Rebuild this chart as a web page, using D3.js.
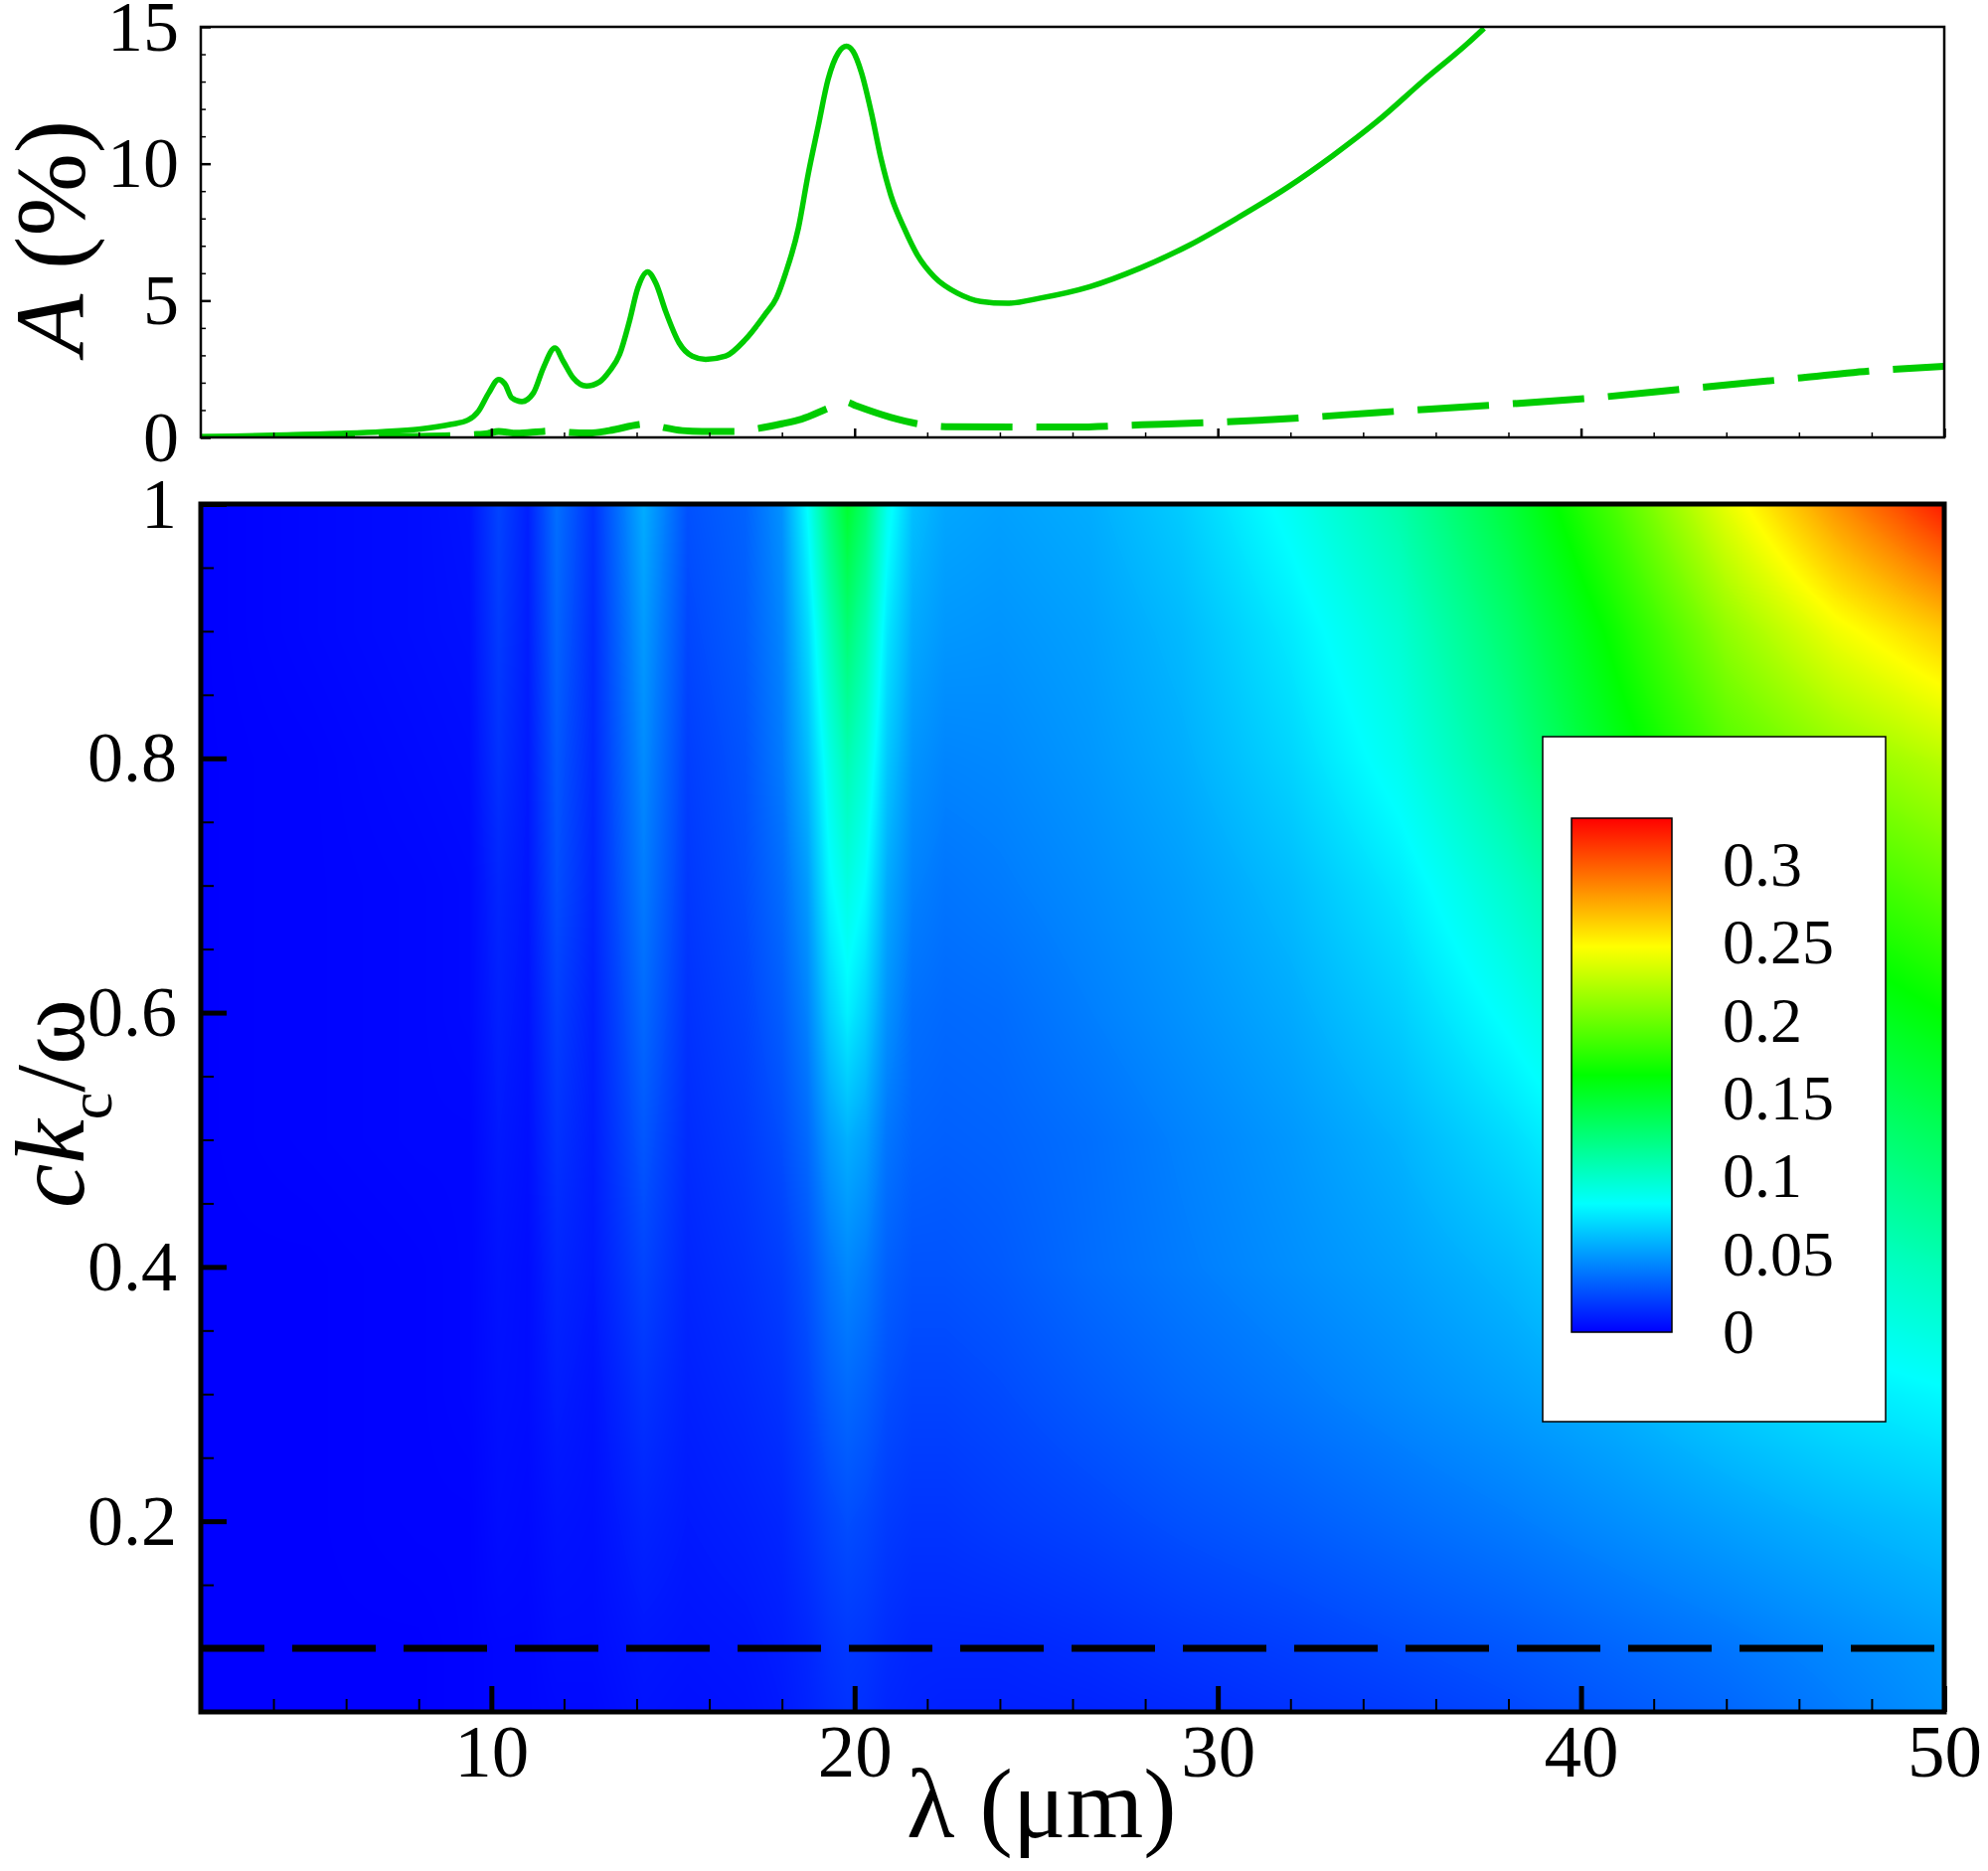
<!DOCTYPE html>
<html>
<head>
<meta charset="utf-8">
<script src="https://cdn.jsdelivr.net/npm/d3@7"></script>
<style>
body { margin: 0; background: #fff; }
svg text { font-family: "Liberation Serif", "Times New Roman", serif; fill: #000; }
</style>
</head>
<body>
<svg id="chart" width="2000" height="1882"></svg>
<script>
// top panel: A (%) against wavelength, two curves
var solidLambda = [2, 4, 6, 7, 8, 8.9, 9.35, 9.65, 9.93, 10.2, 10.38, 10.56, 10.84, 11.16, 11.43, 11.75, 11.98, 12.25, 12.62, 12.98, 13.25, 13.53, 13.8, 14.03, 14.3, 14.53, 14.8, 15.17, 15.53, 15.9, 16.45, 16.99, 17.54, 17.85, 18.1, 18.45, 18.72, 19.0, 19.27, 19.55, 19.78, 19.96, 20.19, 20.46, 20.73, 21.0, 21.37, 21.73, 22.19, 22.83, 23.47, 24.2, 25.11, 26.48, 27.85, 29.21, 30.58, 31.92, 33.16, 34.4, 35.65, 36.89, 37.33];
var solidA = [0.02, 0.08, 0.15, 0.21, 0.3, 0.48, 0.63, 0.97, 1.63, 2.12, 1.94, 1.45, 1.31, 1.63, 2.54, 3.27, 2.78, 2.18, 1.88, 2.03, 2.42, 3.03, 4.24, 5.45, 6.05, 5.63, 4.6, 3.45, 2.97, 2.85, 2.97, 3.57, 4.5, 5.1, 6.0, 7.63, 9.6, 11.38, 13.08, 14.05, 14.29, 14.1, 13.32, 11.87, 10.17, 8.84, 7.63, 6.66, 5.87, 5.27, 4.97, 4.9, 5.09, 5.51, 6.18, 7.02, 8.05, 9.14, 10.29, 11.56, 13.02, 14.41, 14.95];
var dashLambda = [2, 5, 8, 9.5, 9.9, 10.2, 10.7, 11.43, 11.8, 12.16, 12.7, 13.25, 14.07, 14.3, 14.75, 15.26, 15.8, 16.7, 17.35, 18.0, 18.54, 19.32, 19.75, 20.05, 21.0, 21.92, 22.65, 24.56, 26.0, 27.9, 29.9, 31.5, 34.4, 37.64, 40.37, 42.98, 45.6, 48.2, 50];
var dashA = [0, 0.01, 0.04, 0.1, 0.14, 0.22, 0.15, 0.22, 0.24, 0.18, 0.16, 0.25, 0.47, 0.5, 0.36, 0.25, 0.22, 0.22, 0.33, 0.5, 0.67, 1.09, 1.3, 1.15, 0.73, 0.46, 0.39, 0.38, 0.38, 0.46, 0.55, 0.65, 0.91, 1.19, 1.45, 1.79, 2.12, 2.45, 2.6];

// bottom panel: contour field on a (lambda, ck_c/omega) grid
var lambdaCols = [2, 5, 8, 9.4, 10.2, 11, 11.8, 12.8, 14.2, 15.4, 17, 18, 18.7, 19.3, 19.8, 20.3, 20.9, 21.6, 22.5, 24, 26.5, 29, 32, 35, 38, 41, 44, 47, 50];
var kRows = [0.05, 0.1, 0.2, 0.3, 0.4, 0.5, 0.6, 0.7, 0.8, 0.9, 1.0];
var fieldRows = [
  [0, 0, 0, 0.001, 0.002, 0.002, 0.003, 0.003, 0.006, 0.005, 0.006, 0.008, 0.011, 0.014, 0.016, 0.015, 0.012, 0.011, 0.010, 0.010, 0.011, 0.013, 0.016, 0.019, 0.023, 0.028, 0.033, 0.04, 0.047],
  [0, 0, 0, 0.001, 0.002, 0.002, 0.004, 0.004, 0.007, 0.006, 0.007, 0.009, 0.012, 0.016, 0.018, 0.017, 0.014, 0.012, 0.012, 0.012, 0.014, 0.017, 0.02, 0.024, 0.028, 0.033, 0.038, 0.044, 0.05],
  [0, 0, 0.001, 0.001, 0.004, 0.003, 0.006, 0.005, 0.011, 0.008, 0.01, 0.012, 0.017, 0.022, 0.025, 0.023, 0.019, 0.017, 0.017, 0.019, 0.022, 0.026, 0.03, 0.035, 0.04, 0.046, 0.052, 0.058, 0.063],
  [0, 0, 0.001, 0.002, 0.005, 0.004, 0.009, 0.006, 0.016, 0.01, 0.013, 0.016, 0.022, 0.03, 0.034, 0.031, 0.025, 0.022, 0.022, 0.024, 0.029, 0.034, 0.039, 0.045, 0.051, 0.058, 0.067, 0.075, 0.081],
  [0, 0, 0.001, 0.002, 0.006, 0.004, 0.012, 0.008, 0.022, 0.012, 0.016, 0.02, 0.027, 0.038, 0.044, 0.04, 0.031, 0.027, 0.027, 0.029, 0.035, 0.04, 0.046, 0.052, 0.06, 0.072, 0.085, 0.097, 0.106],
  [0, 0.001, 0.002, 0.002, 0.008, 0.005, 0.016, 0.009, 0.028, 0.014, 0.019, 0.025, 0.034, 0.05, 0.057, 0.052, 0.038, 0.032, 0.031, 0.032, 0.036, 0.042, 0.049, 0.058, 0.071, 0.087, 0.105, 0.122, 0.135],
  [0, 0.001, 0.002, 0.003, 0.01, 0.006, 0.02, 0.01, 0.034, 0.016, 0.022, 0.03, 0.042, 0.066, 0.078, 0.068, 0.047, 0.036, 0.034, 0.035, 0.041, 0.047, 0.055, 0.067, 0.085, 0.107, 0.13, 0.15, 0.165],
  [0, 0.001, 0.002, 0.003, 0.012, 0.007, 0.025, 0.012, 0.04, 0.018, 0.025, 0.035, 0.05, 0.08, 0.092, 0.082, 0.055, 0.042, 0.038, 0.04, 0.045, 0.051, 0.061, 0.076, 0.099, 0.126, 0.156, 0.18, 0.195],
  [0, 0.001, 0.003, 0.004, 0.016, 0.008, 0.028, 0.013, 0.045, 0.02, 0.027, 0.04, 0.06, 0.09, 0.108, 0.095, 0.065, 0.048, 0.043, 0.044, 0.049, 0.056, 0.069, 0.088, 0.117, 0.156, 0.19, 0.21, 0.225],
  [0, 0.002, 0.004, 0.005, 0.019, 0.009, 0.032, 0.014, 0.05, 0.023, 0.03, 0.043, 0.07, 0.105, 0.128, 0.11, 0.075, 0.055, 0.049, 0.048, 0.052, 0.06, 0.076, 0.097, 0.13, 0.17, 0.212, 0.243, 0.265],
  [0, 0.002, 0.004, 0.006, 0.022, 0.01, 0.036, 0.016, 0.056, 0.026, 0.032, 0.047, 0.083, 0.125, 0.15, 0.13, 0.088, 0.062, 0.054, 0.052, 0.056, 0.066, 0.086, 0.11, 0.146, 0.19, 0.24, 0.283, 0.322]
];
var cutoffK = 0.1;

// ticks and colour levels
var xTicks = [10, 20, 30, 40, 50];
var topYTicks = [0, 5, 10, 15];
var kTicks = [0.2, 0.4, 0.6, 0.8, 1];
var legendTicks = [0, 0.05, 0.1, 0.15, 0.2, 0.25, 0.3];
var colorStops = [0, 0.0825, 0.165, 0.2475, 0.33];
var colorNames = ["#0000ff", "#00ffff", "#00ff00", "#ffff00", "#ff0000"];

var svg = d3.select("#chart");
var serif = '"Liberation Serif", "Times New Roman", serif';
var left = 202, right = 1956;

var x = d3.scaleLinear().domain([2, 50]).range([left, right]);
var yTop = d3.scaleLinear().domain([0, 15]).range([440, 27]);
var yBot = d3.scaleLinear().domain([0.05, 1]).range([1722, 507]);
var color = d3.scaleLinear().domain(colorStops).range(colorNames).clamp(true);

var xMinor = d3.range(4, 50, 2).filter(function(d) { return d % 10 !== 0; });

// ---------- top panel ----------
svg.append("clipPath").attr("id", "topclip")
  .append("rect").attr("x", left).attr("y", yTop(15))
  .attr("width", right - left).attr("height", yTop(0) - yTop(15));

var line = d3.line()
  .x(function(d) { return x(d[0]); })
  .y(function(d) { return yTop(d[1]); })
  .curve(d3.curveMonotoneX);

var topG = svg.append("g").attr("clip-path", "url(#topclip)");
topG.append("path")
  .datum(d3.zip(dashLambda, dashA))
  .attr("d", line)
  .attr("fill", "none")
  .attr("stroke", "#00cc00")
  .attr("stroke-width", 7)
  .attr("stroke-dasharray", "72,24")
  .attr("stroke-dashoffset", 13);
topG.append("path")
  .datum(d3.zip(solidLambda, solidA))
  .attr("d", line)
  .attr("fill", "none")
  .attr("stroke", "#00cc00")
  .attr("stroke-width", 5.5);

function cleanAxis(g, w) {
  g.select(".domain").remove();
  g.selectAll(".tick line").attr("stroke", "#000").attr("stroke-width", w);
  g.attr("font-family", serif);
}

svg.append("g").attr("transform", "translate(0," + yTop(0) + ")")
  .call(d3.axisBottom(x).tickValues(xTicks).tickSize(-9).tickFormat(""))
  .call(cleanAxis, 2.5);
svg.append("g").attr("transform", "translate(0," + yTop(0) + ")")
  .call(d3.axisBottom(x).tickValues(xMinor).tickSize(-5).tickFormat(""))
  .call(cleanAxis, 1.5);
svg.append("g").attr("transform", "translate(" + left + ",0)")
  .call(d3.axisLeft(yTop).tickValues(topYTicks).tickSize(-10).tickPadding(22))
  .call(cleanAxis, 2.5)
  .attr("font-size", 72);
svg.append("g").attr("transform", "translate(" + left + ",0)")
  .call(d3.axisLeft(yTop).tickValues(d3.range(1, 15).filter(function(d) { return d % 5 !== 0; })).tickSize(-5).tickFormat(""))
  .call(cleanAxis, 1.5);

svg.append("rect")
  .attr("x", left).attr("y", yTop(15))
  .attr("width", right - left).attr("height", yTop(0) - yTop(15))
  .attr("fill", "none").attr("stroke", "#000").attr("stroke-width", 2.5);

var aTitle = svg.append("text")
  .attr("transform", "translate(84,357) rotate(-90)")
  .attr("font-size", 100);
aTitle.append("tspan").attr("font-style", "italic").text("A");
aTitle.append("tspan").text(" (%)");

// ---------- bottom panel: contour flood ----------
var W = right - left, H = yBot(0.05) - yBot(1);
var canvas = document.createElement("canvas");
canvas.width = W; canvas.height = H;
var ctx = canvas.getContext("2d");
var img = ctx.createImageData(W, H);

var lut = d3.range(1001).map(function(i) { return d3.rgb(color(i / 1000 * 0.33)); });
var bis = d3.bisector(function(d) { return d; }).right;

function locate(arr, v) {
  var i = Math.max(0, Math.min(arr.length - 2, bis(arr, v) - 1));
  var t = (v - arr[i]) / (arr[i + 1] - arr[i]);
  return [i, Math.max(0, Math.min(1, t))];
}

var colLoc = d3.range(W).map(function(px) { return locate(lambdaCols, x.invert(left + px + 0.5)); });
var rowLoc = d3.range(H).map(function(py) { return locate(kRows, yBot.invert(yBot(1) + py + 0.5)); });

for (var py = 0; py < H; py++) {
  var j = rowLoc[py][0], u = rowLoc[py][1];
  var r0 = fieldRows[j], r1 = fieldRows[j + 1];
  for (var px = 0; px < W; px++) {
    var i = colLoc[px][0], t = colLoc[px][1];
    var a = r0[i] + (r0[i + 1] - r0[i]) * t;
    var b = r1[i] + (r1[i + 1] - r1[i]) * t;
    var v = a + (b - a) * u;
    var c = lut[Math.max(0, Math.min(1000, Math.round(v / 0.33 * 1000)))];
    var o = (py * W + px) * 4;
    img.data[o] = c.r; img.data[o + 1] = c.g; img.data[o + 2] = c.b; img.data[o + 3] = 255;
  }
}
ctx.putImageData(img, 0, 0);

svg.append("image")
  .attr("x", left).attr("y", yBot(1))
  .attr("width", W).attr("height", H)
  .attr("preserveAspectRatio", "none")
  .attr("href", canvas.toDataURL());

// cut-off line
svg.append("line")
  .attr("x1", left).attr("x2", right)
  .attr("y1", yBot(cutoffK)).attr("y2", yBot(cutoffK))
  .attr("stroke", "#000").attr("stroke-width", 7)
  .attr("stroke-dasharray", "84,28").attr("stroke-dashoffset", 20);

// axes
svg.append("g").attr("transform", "translate(0," + yBot(0.05) + ")")
  .call(d3.axisBottom(x).tickValues(xTicks).tickSize(-26).tickPadding(12))
  .call(cleanAxis, 5)
  .attr("font-size", 75);
svg.append("g").attr("transform", "translate(0," + yBot(0.05) + ")")
  .call(d3.axisBottom(x).tickValues(xMinor).tickSize(-13).tickFormat(""))
  .call(cleanAxis, 2);
svg.append("g").attr("transform", "translate(" + left + ",0)")
  .call(d3.axisLeft(yBot).tickValues(kTicks).tickSize(-26).tickPadding(24).tickFormat(function(d) { return String(d); }))
  .call(cleanAxis, 5)
  .attr("font-size", 72);
svg.append("g").attr("transform", "translate(" + left + ",0)")
  .call(d3.axisLeft(yBot).tickValues(d3.range(2, 20).map(function(i) { return i * 0.05; })
      .filter(function(d) { return Math.round(d * 100) % 20 !== 0; }))
    .tickSize(-13).tickFormat(""))
  .call(cleanAxis, 2);

svg.append("rect")
  .attr("x", left).attr("y", yBot(1))
  .attr("width", W).attr("height", H)
  .attr("fill", "none").attr("stroke", "#000").attr("stroke-width", 5);

// axis titles
svg.append("text")
  .attr("x", 912).attr("y", 1848)
  .attr("font-size", 100)
  .text("λ (μm)");

var kTitle = svg.append("text")
  .attr("transform", "translate(84,1215) rotate(-90)")
  .attr("font-size", 100);
kTitle.append("tspan").attr("font-style", "italic").text("ck");
kTitle.append("tspan").attr("font-size", 62).attr("dy", 28).text("c");
kTitle.append("tspan").attr("dy", -28).text("/ω");

// ---------- legend ----------
var legY = d3.scaleLinear().domain([0, 0.33]).range([1340, 823]);

svg.append("rect")
  .attr("x", 1552).attr("y", 741).attr("width", 345).attr("height", 689)
  .attr("fill", "#fff").attr("stroke", "#000").attr("stroke-width", 1.5);

var grad = svg.append("defs").append("linearGradient")
  .attr("id", "bar").attr("x1", 0).attr("y1", 1).attr("x2", 0).attr("y2", 0);
grad.selectAll("stop")
  .data(colorStops)
  .enter().append("stop")
  .attr("offset", function(d) { return d / 0.33; })
  .attr("stop-color", function(d) { return color(d); });

svg.append("rect")
  .attr("x", 1581).attr("y", legY(0.33))
  .attr("width", 101).attr("height", legY(0) - legY(0.33))
  .attr("fill", "url(#bar)").attr("stroke", "#000").attr("stroke-width", 1.5);

svg.append("g").selectAll("text")
  .data(legendTicks)
  .enter().append("text")
  .attr("x", 1733)
  .attr("y", function(d) { return legY(d); })
  .attr("dy", "0.33em")
  .attr("font-size", 64)
  .text(function(d) { return String(d); });
</script>
</body>
</html>
